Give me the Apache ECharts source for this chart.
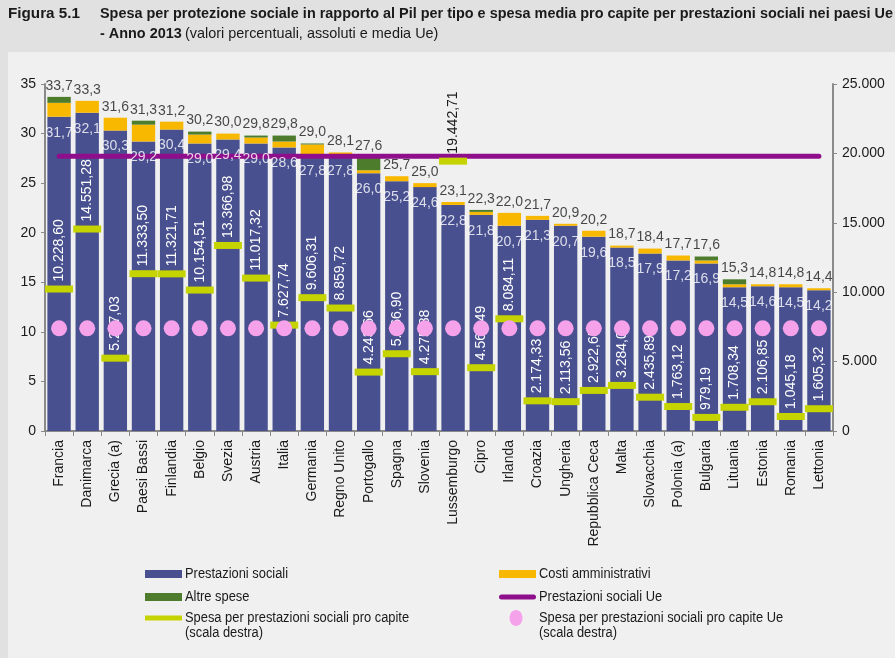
<!DOCTYPE html>
<html>
<head>
<meta charset="utf-8">
<script src="https://cdn.jsdelivr.net/npm/echarts@6/dist/echarts.min.js"></script>
<style>
html,body{margin:0;padding:0;background:#e1e1e1;}
#c{width:895px;height:658px;}
</style>
</head>
<body>
<div id="c"></div>
<script>
const categories = ['Francia','Danimarca','Grecia (a)','Paesi Bassi','Finlandia','Belgio','Svezia','Austria','Italia','Germania','Regno Unito','Portogallo','Spagna','Slovenia','Lussemburgo','Cipro','Irlanda','Croazia','Ungheria','Repubblica Ceca','Malta','Slovacchia','Polonia (a)','Bulgaria','Lituania','Estonia','Romania','Lettonia'];
const prestazioni = [31.7,32.1,30.3,29.2,30.4,29.0,29.4,29.0,28.6,27.8,27.8,26.0,25.2,24.6,22.8,21.8,20.7,21.3,20.7,19.6,18.5,17.9,17.2,16.9,14.5,14.6,14.5,14.2];
const costi = [1.4,1.2,1.3,1.7,0.8,0.9,0.6,0.6,0.6,1.1,0.3,0.3,0.5,0.4,0.3,0.3,1.3,0.4,0.2,0.6,0.2,0.5,0.5,0.3,0.3,0.2,0.3,0.2];
const altre = [0.6,0,0,0.4,0,0.3,0,0.2,0.6,0.1,0,1.3,0,0,0,0.2,0,0,0,0,0,0,0,0.4,0.5,0,0,0];
const totali = [33.7,33.3,31.6,31.3,31.2,30.2,30.0,29.8,29.8,29.0,28.1,27.6,25.7,25.0,23.1,22.3,22.0,21.7,20.9,20.2,18.7,18.4,17.7,17.6,15.3,14.8,14.8,14.4];
const proCapite = [10228.60,14551.28,5247.03,11333.50,11321.71,10154.51,13366.98,11017.32,7627.74,9606.31,8859.72,4243.66,5566.90,4275.88,19442.71,4560.49,8084.11,2174.33,2113.56,2922.65,3284.08,2435.89,1763.12,979.19,1708.34,2106.85,1045.18,1605.32];
const uePrestazioni = 27.7;
const ueProCapite = 7400;

const leftMax = 35, rightMax = 25000;
const FONT = "'Liberation Sans', Arial, Helvetica, sans-serif";

function it1(v){ return v.toFixed(1).replace('.', ','); }
function it2(v){
  const p = v.toFixed(2).split('.');
  return p[0].replace(/\B(?=(\d{3})+(?!\d))/g, '.') + ',' + p[1];
}
function thou(v){ return String(Math.round(v)).replace(/\B(?=(\d{3})+(?!\d))/g, '.'); }

// measure text to emulate a narrow typeface by horizontal scaling
const mctx = document.createElement('canvas').getContext('2d');
function textW(txt, font){ mctx.font = font; return mctx.measureText(txt).width; }
const NS = 0.92; // narrow scale for legend

const BLUE = '#48508f', ORANGE = '#f9b800', GREEN = '#4c7c2c', PURPLE = '#8f0e8c', YG = '#c5d300', PINK = '#f6a2ea';

const TITLE1 = 'Spesa per protezione sociale in rapporto al Pil per tipo e spesa media pro capite per prestazioni sociali nei paesi Ue';
const titleFont = 'bold 15px ' + FONT;
const t1scale = 793 / textW(TITLE1, titleFont);
const figScale = 72 / textW('Figura 5.1', titleFont);

function narrowText(x, y, txt, font, sc){
  return { type: 'text', x: x, y: y, scaleX: sc, scaleY: 1, style: { text: txt, font: font, fill: '#1a1a1a', textVerticalAlign: 'middle' } };
}

const legendItems = [
  { name: 'Prestazioni sociali', x: 145, y: 574, kind: 'bar', color: BLUE },
  { name: 'Altre spese', x: 145, y: 597, kind: 'bar', color: GREEN },
  { name: 'Spesa per prestazioni sociali pro capite', sub: '(scala destra)', x: 145, y: 618, kind: 'thin', color: YG },
  { name: 'Costi amministrativi', x: 499, y: 574, kind: 'bar', color: ORANGE },
  { name: 'Prestazioni sociali Ue', x: 499, y: 597, kind: 'round', color: PURPLE },
  { name: 'Spesa per prestazioni sociali pro capite Ue', sub: '(scala destra)', x: 499, y: 618, kind: 'dot', color: PINK }
];
const legFont = '14px ' + FONT;
const legendGraphics = [];
legendItems.forEach(it => {
  if (it.kind === 'bar') legendGraphics.push({ type: 'rect', shape: { x: it.x, y: it.y - 4, width: 37, height: 8 }, style: { fill: it.color } });
  if (it.kind === 'thin') legendGraphics.push({ type: 'rect', shape: { x: it.x, y: it.y - 2.5, width: 37, height: 5 }, style: { fill: it.color } });
  if (it.kind === 'round') legendGraphics.push({ type: 'rect', shape: { x: it.x, y: it.y - 2.5, width: 37, height: 5, r: 2.5 }, style: { fill: it.color } });
  if (it.kind === 'dot') legendGraphics.push({ type: 'ellipse', shape: { cx: it.x + 17, cy: it.y, rx: 6.5, ry: 8 }, style: { fill: it.color } });
  legendGraphics.push(narrowText(it.x + 40, it.y, it.name, legFont, NS));
  if (it.sub) legendGraphics.push(narrowText(it.x + 40, it.y + 15, it.sub, legFont, NS));
});

const chart = echarts.init(document.getElementById('c'));
const lbl = { fontFamily: FONT, fontSize: 14 };
const option = {
  backgroundColor: '#e1e1e1',
  animation: false,
  textStyle: { fontFamily: FONT },
  graphic: { elements: [
    { type: 'rect', left: 8, top: 52, z: -100, shape: { width: 887, height: 606 }, style: { fill: '#f0f0f0' } },
    narrowText(8, 14, 'Figura 5.1', titleFont, figScale),
    narrowText(100, 14, TITLE1, titleFont, t1scale),
    { type: 'text', x: 100, y: 34, scaleX: t1scale, style: {
        text: '{b|- Anno 2013} {n|(valori percentuali, assoluti e media Ue)}', textVerticalAlign: 'middle',
        rich: { b: { font: 'bold 15px ' + FONT, fill: '#1a1a1a' }, n: { font: '15px ' + FONT, fill: '#1a1a1a' } } } }
  ].concat(legendGraphics) },
  grid: { left: 45, right: 62, top: 84, bottom: 227 },
  xAxis: {
    type: 'category', data: categories,
    axisLine: { lineStyle: { color: '#8a8a8a', width: 2 } },
    axisTick: { show: true, length: 5, lineStyle: { color: '#8a8a8a' } },
    axisLabel: Object.assign({ rotate: 90, color: '#1a1a1a', margin: 9 }, lbl)
  },
  yAxis: [
    { type: 'value', min: 0, max: leftMax, interval: 5, splitLine: { show: false },
      axisLine: { show: true, lineStyle: { color: '#8a8a8a', width: 2 } },
      axisTick: { show: true, length: 4, lineStyle: { color: '#8a8a8a' } },
      axisLabel: Object.assign({ color: '#1a1a1a', margin: 9 }, lbl) },
    { type: 'value', min: 0, max: rightMax, interval: 5000, splitLine: { show: false },
      axisLine: { show: true, lineStyle: { color: '#8a8a8a', width: 2 } },
      axisTick: { show: true, length: 4, lineStyle: { color: '#8a8a8a' } },
      axisLabel: Object.assign({ color: '#1a1a1a', margin: 9, formatter: thou }, lbl) }
  ],
  series: [
    { name: 'Prestazioni sociali', type: 'bar', stack: 'tot', data: prestazioni, barCategoryGap: '17%', itemStyle: { color: BLUE } },
    { name: 'Costi amministrativi', type: 'bar', stack: 'tot', data: costi, itemStyle: { color: ORANGE } },
    { name: 'Altre spese', type: 'bar', stack: 'tot', data: altre, itemStyle: { color: GREEN } },
    { name: 'Prestazioni sociali Ue', type: 'line', data: categories.map(() => uePrestazioni), symbol: 'none', z: 4,
      lineStyle: { color: PURPLE, width: 5, cap: 'round' }, itemStyle: { color: PURPLE } },
    { name: 'Spesa per prestazioni sociali pro capite', type: 'scatter', yAxisIndex: 1, z: 5,
      symbol: 'rect', symbolSize: [28, 7], itemStyle: { color: YG, opacity: 1 },
      data: proCapite.map((v, i) => ({
        value: v,
        label: { color: (v / rightMax * leftMax > totali[i]) ? '#1a1a1a' : '#ffffff' }
      })),
      label: Object.assign({ show: true, position: 'top', rotate: 90, align: 'left', verticalAlign: 'middle', distance: 4,
        formatter: p => it2(p.value) }, lbl) },
    { name: 'Spesa per prestazioni sociali pro capite Ue', type: 'scatter', yAxisIndex: 1, z: 6,
      symbol: 'circle', symbolSize: 16, itemStyle: { color: PINK, opacity: 1 },
      data: categories.map(() => ueProCapite) },
    { name: 'lblPrest', type: 'scatter', z: 8, symbolSize: 0, silent: true, itemStyle: { color: 'transparent' },
      data: prestazioni,
      label: Object.assign({ show: true, position: 'bottom', distance: 9, color: '#ffffff', formatter: p => it1(p.value) }, lbl) },
    { name: 'lblTot', type: 'scatter', z: 8, symbolSize: 0, silent: true, itemStyle: { color: 'transparent' },
      data: totali,
      label: Object.assign({ show: true, position: 'top', distance: 4, color: '#1a1a1a', formatter: p => it1(p.value) }, lbl) }
  ]
};
chart.setOption(option);
</script>
</body>
</html>
